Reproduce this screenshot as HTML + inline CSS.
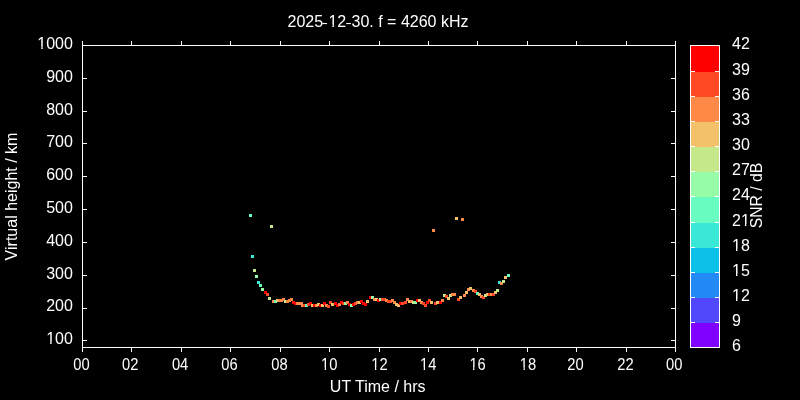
<!DOCTYPE html>
<html><head><meta charset="utf-8"><style>
html,body{margin:0;padding:0;background:#000;width:800px;height:400px;overflow:hidden}
svg{display:block;will-change:transform}

text{font-family:"Liberation Sans",sans-serif;font-size:16px;fill:#fff}
</style></head><body>
<svg width="800" height="400" viewBox="0 0 800 400">
<rect x="0" y="0" width="800" height="400" fill="#000"/>

<g shape-rendering="crispEdges">
<rect x="249" y="214" width="3" height="3" fill="#68fcc1"/>
<rect x="270" y="225" width="3" height="3" fill="#c5e88a"/>
<rect x="251" y="255" width="3" height="3" fill="#3ae8d7"/>
<rect x="253" y="269" width="3" height="3" fill="#c5e88a"/>
<rect x="255" y="275" width="3" height="3" fill="#97fca7"/>
<rect x="257" y="281" width="3" height="3" fill="#3ae8d7"/>
<rect x="259" y="284" width="3" height="3" fill="#68fcc1"/>
<rect x="261" y="288" width="3" height="3" fill="#97fca7"/>
<rect x="264" y="291" width="3" height="3" fill="#ff0000"/>
<rect x="266" y="293" width="3" height="3" fill="#ff4824"/>
<rect x="268" y="297" width="3" height="3" fill="#c5e88a"/>
<rect x="272" y="300" width="3" height="3" fill="#ff8a48"/>
<rect x="274" y="300" width="3" height="3" fill="#68fcc1"/>
<rect x="276" y="299" width="3" height="3" fill="#f3c16a"/>
<rect x="278" y="299" width="3" height="3" fill="#ff8a48"/>
<rect x="280" y="299" width="3" height="3" fill="#ff8a48"/>
<rect x="282" y="298" width="3" height="3" fill="#ff8a48"/>
<rect x="284" y="300" width="3" height="3" fill="#c5e88a"/>
<rect x="286" y="300" width="3" height="3" fill="#ff8a48"/>
<rect x="288" y="299" width="3" height="3" fill="#ff8a48"/>
<rect x="290" y="298" width="3" height="3" fill="#ff8a48"/>
<rect x="292" y="301" width="3" height="3" fill="#ff0000"/>
<rect x="294" y="302" width="3" height="3" fill="#ff0000"/>
<rect x="296" y="302" width="3" height="3" fill="#ff8a48"/>
<rect x="298" y="302" width="3" height="3" fill="#ff8a48"/>
<rect x="300" y="302" width="3" height="3" fill="#ff8a48"/>
<rect x="301" y="304" width="3" height="3" fill="#ff8a48"/>
<rect x="303" y="304" width="3" height="3" fill="#ff4824"/>
<rect x="305" y="304" width="3" height="3" fill="#68fcc1"/>
<rect x="307" y="303" width="3" height="3" fill="#ff4824"/>
<rect x="309" y="302" width="3" height="3" fill="#ff0000"/>
<rect x="311" y="304" width="3" height="3" fill="#f3c16a"/>
<rect x="313" y="304" width="3" height="3" fill="#ff0000"/>
<rect x="315" y="304" width="3" height="3" fill="#ff8a48"/>
<rect x="317" y="303" width="3" height="3" fill="#f3c16a"/>
<rect x="319" y="304" width="3" height="3" fill="#ff0000"/>
<rect x="321" y="304" width="3" height="3" fill="#f3c16a"/>
<rect x="323" y="302" width="3" height="3" fill="#ff0000"/>
<rect x="325" y="304" width="3" height="3" fill="#ff8a48"/>
<rect x="327" y="305" width="3" height="3" fill="#ff4824"/>
<rect x="329" y="301" width="3" height="3" fill="#ff4824"/>
<rect x="331" y="303" width="3" height="3" fill="#f3c16a"/>
<rect x="334" y="302" width="3" height="3" fill="#ff0000"/>
<rect x="336" y="304" width="3" height="3" fill="#ff0000"/>
<rect x="338" y="303" width="3" height="3" fill="#ff8a48"/>
<rect x="340" y="301" width="3" height="3" fill="#ff0000"/>
<rect x="342" y="302" width="3" height="3" fill="#ff4824"/>
<rect x="344" y="302" width="3" height="3" fill="#97fca7"/>
<rect x="346" y="301" width="3" height="3" fill="#ff8a48"/>
<rect x="348" y="303" width="3" height="3" fill="#ff0000"/>
<rect x="350" y="304" width="3" height="3" fill="#97fca7"/>
<rect x="352" y="303" width="3" height="3" fill="#ff0000"/>
<rect x="354" y="302" width="3" height="3" fill="#ff4824"/>
<rect x="356" y="301" width="3" height="3" fill="#ff8a48"/>
<rect x="358" y="301" width="3" height="3" fill="#f3c16a"/>
<rect x="360" y="300" width="3" height="3" fill="#ff0000"/>
<rect x="362" y="302" width="3" height="3" fill="#ff0000"/>
<rect x="364" y="303" width="3" height="3" fill="#ff0000"/>
<rect x="366" y="300" width="3" height="3" fill="#f3c16a"/>
<rect x="369" y="296" width="3" height="3" fill="#ff0000"/>
<rect x="371" y="296" width="3" height="3" fill="#97fca7"/>
<rect x="373" y="298" width="3" height="3" fill="#ff8a48"/>
<rect x="375" y="298" width="3" height="3" fill="#f3c16a"/>
<rect x="377" y="299" width="3" height="3" fill="#ff0000"/>
<rect x="379" y="298" width="3" height="3" fill="#97fca7"/>
<rect x="381" y="298" width="3" height="3" fill="#ff4824"/>
<rect x="383" y="298" width="3" height="3" fill="#ff4824"/>
<rect x="385" y="299" width="3" height="3" fill="#ff8a48"/>
<rect x="387" y="300" width="3" height="3" fill="#ff4824"/>
<rect x="389" y="300" width="3" height="3" fill="#ff4824"/>
<rect x="391" y="299" width="3" height="3" fill="#ff8a48"/>
<rect x="393" y="301" width="3" height="3" fill="#ff8a48"/>
<rect x="395" y="303" width="3" height="3" fill="#f3c16a"/>
<rect x="397" y="304" width="3" height="3" fill="#f3c16a"/>
<rect x="399" y="302" width="3" height="3" fill="#ff0000"/>
<rect x="401" y="302" width="3" height="3" fill="#ff4824"/>
<rect x="404" y="301" width="3" height="3" fill="#ff4824"/>
<rect x="406" y="298" width="3" height="3" fill="#ff8a48"/>
<rect x="408" y="300" width="3" height="3" fill="#f3c16a"/>
<rect x="410" y="300" width="3" height="3" fill="#ff8a48"/>
<rect x="412" y="301" width="3" height="3" fill="#c5e88a"/>
<rect x="414" y="301" width="3" height="3" fill="#97fca7"/>
<rect x="416" y="299" width="3" height="3" fill="#ff0000"/>
<rect x="418" y="299" width="3" height="3" fill="#f3c16a"/>
<rect x="420" y="301" width="3" height="3" fill="#ff8a48"/>
<rect x="422" y="302" width="3" height="3" fill="#ff4824"/>
<rect x="424" y="304" width="3" height="3" fill="#ff4824"/>
<rect x="426" y="301" width="3" height="3" fill="#ff0000"/>
<rect x="428" y="299" width="3" height="3" fill="#ff4824"/>
<rect x="430" y="301" width="3" height="3" fill="#f3c16a"/>
<rect x="434" y="302" width="3" height="3" fill="#ff4824"/>
<rect x="436" y="301" width="3" height="3" fill="#f3c16a"/>
<rect x="439" y="301" width="3" height="3" fill="#ff0000"/>
<rect x="441" y="299" width="3" height="3" fill="#ff8a48"/>
<rect x="443" y="294" width="3" height="3" fill="#c5e88a"/>
<rect x="445" y="295" width="3" height="3" fill="#ff4824"/>
<rect x="447" y="297" width="3" height="3" fill="#f3c16a"/>
<rect x="449" y="294" width="3" height="3" fill="#c5e88a"/>
<rect x="451" y="293" width="3" height="3" fill="#ff8a48"/>
<rect x="453" y="293" width="3" height="3" fill="#ff8a48"/>
<rect x="457" y="298" width="3" height="3" fill="#ff4824"/>
<rect x="459" y="296" width="3" height="3" fill="#f3c16a"/>
<rect x="463" y="294" width="3" height="3" fill="#ff8a48"/>
<rect x="465" y="291" width="3" height="3" fill="#f3c16a"/>
<rect x="467" y="288" width="3" height="3" fill="#ff8a48"/>
<rect x="469" y="287" width="3" height="3" fill="#f3c16a"/>
<rect x="472" y="289" width="3" height="3" fill="#ff8a48"/>
<rect x="474" y="290" width="3" height="3" fill="#ff4824"/>
<rect x="476" y="292" width="3" height="3" fill="#68fcc1"/>
<rect x="478" y="293" width="3" height="3" fill="#f3c16a"/>
<rect x="480" y="295" width="3" height="3" fill="#ff8a48"/>
<rect x="482" y="296" width="3" height="3" fill="#ff4824"/>
<rect x="484" y="294" width="3" height="3" fill="#c5e88a"/>
<rect x="486" y="293" width="3" height="3" fill="#f3c16a"/>
<rect x="488" y="293" width="3" height="3" fill="#ff4824"/>
<rect x="490" y="293" width="3" height="3" fill="#ff8a48"/>
<rect x="492" y="293" width="3" height="3" fill="#ff4824"/>
<rect x="494" y="291" width="3" height="3" fill="#f3c16a"/>
<rect x="496" y="289" width="3" height="3" fill="#c5e88a"/>
<rect x="498" y="281" width="3" height="3" fill="#3ae8d7"/>
<rect x="500" y="282" width="3" height="3" fill="#ff8a48"/>
<rect x="502" y="280" width="3" height="3" fill="#c5e88a"/>
<rect x="504" y="276" width="3" height="3" fill="#f3c16a"/>
<rect x="507" y="274" width="3" height="3" fill="#68fcc1"/>
<rect x="432" y="229" width="3" height="3" fill="#ff8a48"/>
<rect x="455" y="217" width="3" height="3" fill="#f3c16a"/>
<rect x="461" y="218" width="3" height="3" fill="#ff8a48"/>
</g>
<g fill="#fff" shape-rendering="crispEdges">
<rect x="82" y="45" width="594" height="1"/>
<rect x="82" y="347" width="594" height="1"/>
<rect x="82" y="45" width="1" height="303"/>
<rect x="675" y="45" width="1" height="303"/>
<rect x="82" y="41" width="1" height="4"/>
<rect x="82" y="348" width="1" height="4"/>
<rect x="131" y="41" width="1" height="4"/>
<rect x="131" y="348" width="1" height="4"/>
<rect x="181" y="41" width="1" height="4"/>
<rect x="181" y="348" width="1" height="4"/>
<rect x="230" y="41" width="1" height="4"/>
<rect x="230" y="348" width="1" height="4"/>
<rect x="280" y="41" width="1" height="4"/>
<rect x="280" y="348" width="1" height="4"/>
<rect x="329" y="41" width="1" height="4"/>
<rect x="329" y="348" width="1" height="4"/>
<rect x="379" y="41" width="1" height="4"/>
<rect x="379" y="348" width="1" height="4"/>
<rect x="428" y="41" width="1" height="4"/>
<rect x="428" y="348" width="1" height="4"/>
<rect x="477" y="41" width="1" height="4"/>
<rect x="477" y="348" width="1" height="4"/>
<rect x="527" y="41" width="1" height="4"/>
<rect x="527" y="348" width="1" height="4"/>
<rect x="576" y="41" width="1" height="4"/>
<rect x="576" y="348" width="1" height="4"/>
<rect x="626" y="41" width="1" height="4"/>
<rect x="626" y="348" width="1" height="4"/>
<rect x="675" y="41" width="1" height="4"/>
<rect x="675" y="348" width="1" height="4"/>
<rect x="83" y="340" width="4" height="1"/>
<rect x="671" y="340" width="4" height="1"/>
<rect x="83" y="308" width="4" height="1"/>
<rect x="671" y="308" width="4" height="1"/>
<rect x="83" y="275" width="4" height="1"/>
<rect x="671" y="275" width="4" height="1"/>
<rect x="83" y="242" width="4" height="1"/>
<rect x="671" y="242" width="4" height="1"/>
<rect x="83" y="209" width="4" height="1"/>
<rect x="671" y="209" width="4" height="1"/>
<rect x="83" y="176" width="4" height="1"/>
<rect x="671" y="176" width="4" height="1"/>
<rect x="83" y="143" width="4" height="1"/>
<rect x="671" y="143" width="4" height="1"/>
<rect x="83" y="111" width="4" height="1"/>
<rect x="671" y="111" width="4" height="1"/>
<rect x="83" y="78" width="4" height="1"/>
<rect x="671" y="78" width="4" height="1"/>
<rect x="83" y="45" width="4" height="1"/>
<rect x="671" y="45" width="4" height="1"/>
</g>
<g shape-rendering="crispEdges">
<rect x="690" y="323" width="29" height="25" fill="#8000ff"/>
<rect x="690" y="298" width="29" height="25" fill="#5148fc"/>
<rect x="690" y="273" width="29" height="25" fill="#238af5"/>
<rect x="690" y="248" width="29" height="25" fill="#0cc1e8"/>
<rect x="690" y="223" width="29" height="25" fill="#3ae8d7"/>
<rect x="690" y="197" width="29" height="26" fill="#68fcc1"/>
<rect x="690" y="172" width="29" height="25" fill="#97fca7"/>
<rect x="690" y="147" width="29" height="25" fill="#c5e88a"/>
<rect x="690" y="122" width="29" height="25" fill="#f3c16a"/>
<rect x="690" y="97" width="29" height="25" fill="#ff8a48"/>
<rect x="690" y="72" width="29" height="25" fill="#ff4824"/>
<rect x="690" y="46" width="29" height="26" fill="#ff0000"/>
</g><g fill="#fff" shape-rendering="crispEdges">
<rect x="690" y="45" width="30" height="1"/>
<rect x="690" y="347" width="30" height="1"/>
<rect x="690" y="45" width="1" height="303"/>
<rect x="719" y="45" width="1" height="303"/>
<rect x="691" y="322" width="4" height="1"/>
<rect x="715" y="322" width="4" height="1"/>
<rect x="691" y="297" width="4" height="1"/>
<rect x="715" y="297" width="4" height="1"/>
<rect x="691" y="272" width="4" height="1"/>
<rect x="715" y="272" width="4" height="1"/>
<rect x="691" y="247" width="4" height="1"/>
<rect x="715" y="247" width="4" height="1"/>
<rect x="691" y="222" width="4" height="1"/>
<rect x="715" y="222" width="4" height="1"/>
<rect x="691" y="196" width="4" height="1"/>
<rect x="715" y="196" width="4" height="1"/>
<rect x="691" y="171" width="4" height="1"/>
<rect x="715" y="171" width="4" height="1"/>
<rect x="691" y="146" width="4" height="1"/>
<rect x="715" y="146" width="4" height="1"/>
<rect x="691" y="121" width="4" height="1"/>
<rect x="715" y="121" width="4" height="1"/>
<rect x="691" y="96" width="4" height="1"/>
<rect x="715" y="96" width="4" height="1"/>
<rect x="691" y="71" width="4" height="1"/>
<rect x="715" y="71" width="4" height="1"/>
</g>
<text x="378" y="26.8" text-anchor="middle">2025-12-30. f = 4260 kHz</text>
<text x="72.9" y="344.2" text-anchor="end">100</text>
<text x="72.9" y="311.4" text-anchor="end">200</text>
<text x="72.9" y="278.6" text-anchor="end">300</text>
<text x="72.9" y="245.8" text-anchor="end">400</text>
<text x="72.9" y="212.9" text-anchor="end">500</text>
<text x="72.9" y="180.1" text-anchor="end">600</text>
<text x="72.9" y="147.3" text-anchor="end">700</text>
<text x="72.9" y="114.5" text-anchor="end">800</text>
<text x="72.9" y="81.6" text-anchor="end">900</text>
<text x="72.9" y="48.8" text-anchor="end">1000</text>
<text transform="translate(81.50,369.8) scale(0.92,1)" text-anchor="middle">00</text>
<text transform="translate(130.17,369.8) scale(0.92,1)" text-anchor="middle">02</text>
<text transform="translate(180.08,369.8) scale(0.92,1)" text-anchor="middle">04</text>
<text transform="translate(229.50,369.8) scale(0.92,1)" text-anchor="middle">06</text>
<text transform="translate(279.42,369.8) scale(0.92,1)" text-anchor="middle">08</text>
<text transform="translate(329.18,369.8) scale(0.92,1)" text-anchor="middle">10</text>
<text transform="translate(379.50,369.8) scale(0.92,1)" text-anchor="middle">12</text>
<text transform="translate(428.17,369.8) scale(0.92,1)" text-anchor="middle">14</text>
<text transform="translate(477.58,369.8) scale(0.92,1)" text-anchor="middle">16</text>
<text transform="translate(528.00,369.8) scale(0.92,1)" text-anchor="middle">18</text>
<text transform="translate(575.42,369.8) scale(0.92,1)" text-anchor="middle">20</text>
<text transform="translate(625.48,369.8) scale(0.92,1)" text-anchor="middle">22</text>
<text transform="translate(674.25,369.8) scale(0.92,1)" text-anchor="middle">00</text>
<text x="377.7" y="392" text-anchor="middle">UT Time / hrs</text>
<text transform="translate(17.4,196.5) rotate(-90)" text-anchor="middle">Virtual height / km</text>
<text x="732" y="351.2">6</text>
<text x="732" y="326.2">9</text>
<text x="732" y="301.2">12</text>
<text x="732" y="276.2">15</text>
<text x="732" y="251.2">18</text>
<text x="732" y="226.2">21</text>
<text x="732" y="200.2">24</text>
<text x="732" y="175.2">27</text>
<text x="732" y="150.2">30</text>
<text x="732" y="125.2">33</text>
<text x="732" y="100.2">36</text>
<text x="732" y="75.2">39</text>
<text x="732" y="49.2">42</text>
<g fill="#000">
<rect x="323.29" y="20.50" width="4.9" height="3.2"/>
<rect x="328.61" y="24.50" width="3.80" height="3.30"/>
<rect x="333.88" y="24.50" width="3.28" height="3.30"/>
<rect x="346.41" y="20.50" width="4.9" height="3.2"/>
<rect x="46.40" y="341.90" width="3.80" height="3.30"/>
<rect x="51.67" y="341.90" width="3.28" height="3.30"/>
<rect x="37.51" y="46.50" width="3.80" height="3.30"/>
<rect x="42.78" y="46.50" width="3.28" height="3.30"/>
<g transform="translate(329.18,369.8) scale(0.92,1)">
<rect x="-8.70" y="-2.30" width="3.80" height="3.30"/>
<rect x="-3.43" y="-2.30" width="3.28" height="3.30"/>
</g>
<g transform="translate(379.50,369.8) scale(0.92,1)">
<rect x="-8.70" y="-2.30" width="3.80" height="3.30"/>
<rect x="-3.43" y="-2.30" width="3.28" height="3.30"/>
</g>
<g transform="translate(428.17,369.8) scale(0.92,1)">
<rect x="-8.70" y="-2.30" width="3.80" height="3.30"/>
<rect x="-3.43" y="-2.30" width="3.28" height="3.30"/>
</g>
<g transform="translate(477.58,369.8) scale(0.92,1)">
<rect x="-8.70" y="-2.30" width="3.80" height="3.30"/>
<rect x="-3.43" y="-2.30" width="3.28" height="3.30"/>
</g>
<g transform="translate(528.00,369.8) scale(0.92,1)">
<rect x="-8.70" y="-2.30" width="3.80" height="3.30"/>
<rect x="-3.43" y="-2.30" width="3.28" height="3.30"/>
</g>
<rect x="732.20" y="298.90" width="3.80" height="3.30"/>
<rect x="737.47" y="298.90" width="3.28" height="3.30"/>
<rect x="732.20" y="273.90" width="3.80" height="3.30"/>
<rect x="737.47" y="273.90" width="3.28" height="3.30"/>
<rect x="732.20" y="248.90" width="3.80" height="3.30"/>
<rect x="737.47" y="248.90" width="3.28" height="3.30"/>
<rect x="741.09" y="223.90" width="3.80" height="3.30"/>
<rect x="746.36" y="223.90" width="3.28" height="3.30"/>
</g>
<rect x="322.4" y="23" width="4.6" height="1.1" fill="#fff"/>
<rect x="346.2" y="23" width="4.7" height="1.1" fill="#fff"/>
<text transform="translate(762.3,195.5) rotate(-90) scale(0.983,1)" text-anchor="middle">SNR / dB</text>
</svg>
</body></html>
